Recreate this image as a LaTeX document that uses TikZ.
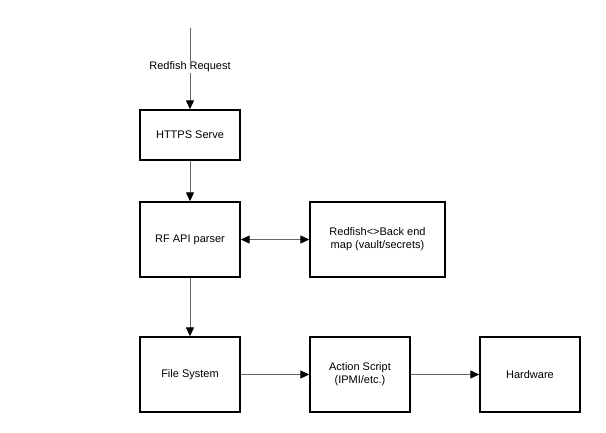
\documentclass[tikz,border=0pt]{standalone}
\usepackage{fontspec}
\setmainfont{Liberation Sans}
\usetikzlibrary{arrows.meta}
\begin{document}
\begin{tikzpicture}[x=1pt,y=-1pt,
  box/.style={draw=black,line width=1.4pt,minimum width=100pt,align=center,font=\fontsize{11}{13}\selectfont,inner sep=0pt},
  tip/.style={Triangle[length=9pt,width=8pt,fill=black,color=black]},
  conn/.style={draw=black!60,line width=1pt,-{Triangle[length=9pt,width=8pt,fill=black,color=black]}},
  dconn/.style={draw=black!60,line width=1pt,{Triangle[length=9pt,width=8pt,fill=black,color=black]}-{Triangle[length=9pt,width=8pt,fill=black,color=black]}}]
\useasboundingbox[fill=white] (0,0) rectangle (606,432);
\node[box,minimum height=50pt] (https) at (190,135) {HTTPS Serve};
\node[box,minimum height=75pt] (rf) at (190,239.5) {RF API parser};
\node[box,minimum height=75pt,minimum width=135pt] (map) at (377.5,239.5) {Redfish<>Back end\\map (vault/secrets)};
\node[box,minimum height=75pt] (fs) at (190,374.5) {File System};
\node[box,minimum height=75pt] (act) at (360,374.5) {Action Script\\(IPMI/etc.)};
\node[box,minimum height=75pt] (hw) at (530,374.5) {Hardware};
\coordinate (start) at (190,28);
\draw[conn] (start) -- node[fill=white,font=\fontsize{11}{13}\selectfont,inner sep=1pt,pos=0.48] {Redfish Request} (https);
\draw[conn] (https) -- (rf);
\draw[dconn] (rf) -- (map);
\draw[conn] (rf) -- (fs);
\draw[conn] (fs) -- (act);
\draw[conn] (act) -- (hw);
\end{tikzpicture}
\end{document}
